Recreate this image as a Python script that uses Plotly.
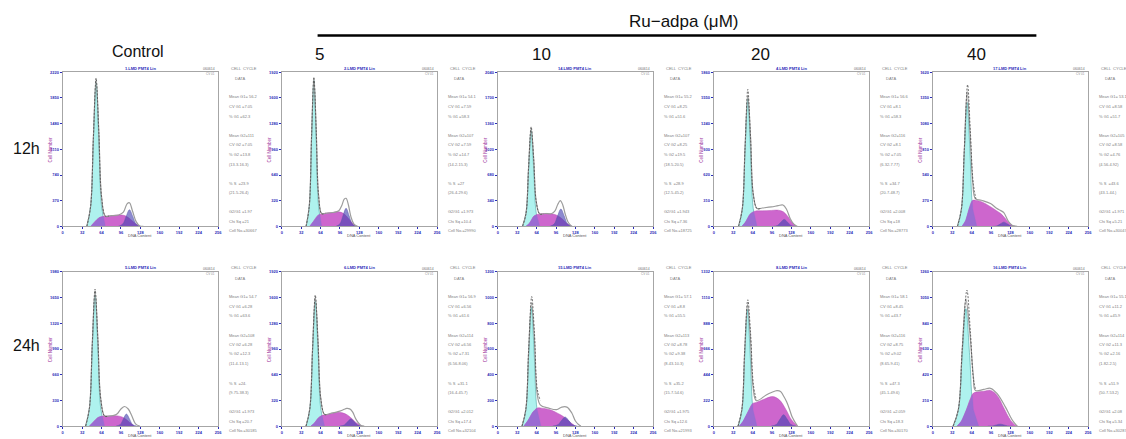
import plotly.graph_objects as go

# ---------------- data ----------------
PANEL_NAMES = ["1.LMD PMT4 Lin", "2.LMD PMT4 Lin", "14.LMD PMT4 Lin", "4.LMD PMT4 Lin", "17.LMD PMT4 Lin",
               "5.LMD PMT4 Lin", "6.LMD PMT4 Lin", "15.LMD PMT4 Lin", "8.LMD PMT4 Lin", "16.LMD PMT4 Lin"]
COL_LABELS = ["Control", "5", "10", "20", "40"]
ROW_LABELS = ["12h", "24h"]
X_TICKS = [0, 32, 64, 96, 128, 160, 192, 224, 256]
YMAX = [2220, 1920, 2040, 1860, 1620, 1980, 1920, 1200, 1332, 1260]

MEAN_G1 = ["56.2", "54.1", "55.2", "56.6", "53.1", "54.7", "56.9", "57.1", "58.1", "55.1"]
CV_G1 = ["7.05", "7.59", "8.25", "8.1", "8.58", "6.28", "6.56", "8.8", "8.45", "11.2"]
PCT_G1 = ["62.3", "58.3", "51.6", "58.3", "51.7", "63.6", "61.6", "55.5", "43.7", "45.9"]
MEAN_G2 = ["111", "107", "107", "116", "105", "108", "114", "113", "116", "114"]
CV_G2 = ["7.05", "7.59", "8.25", "8.1", "8.58", "6.28", "6.56", "8.78", "8.75", "11.3"]
PCT_G2 = ["13.8", "14.7", "19.5", "7.05", "4.76", "12.3", "7.31", "9.38", "9.02", "2.16"]
G2_CI = ["(13.3-16.3)", "(14.2-15.3)", "(18.5-20.5)", "(6.32-7.77)", "(4.56-4.92)",
         "(11.4-13.1)", "(6.56-8.06)", "(8.43-10.3)", "(8.65-9.41)", "(1.82-2.5)"]
PCT_S = ["23.9", "27", "28.9", "34.7", "43.6", "24.", "31.1", "35.2", "47.3", "51.9"]
S_CI = ["(21.5-26.4)", "(26.4-29.6)", "(12.5-45.2)", "(20.7-48.7)", "(43.1-44.)",
        "(9.75-38.3)", "(16.4-45.7)", "(15.7-54.6)", "(45.1-49.6)", "(50.7-53.2)"]
G2G1 = ["1.97", "1.973", "1.943", "2.008", "1.971", "1.973", "2.012", "1.975", "2.059", "2.08"]
CHI = ["21", "10.4", "7.36", "18", "5.21", "20.7", "17.4", "12.6", "18.3", "5.34"]
CELLS = ["30667", "29990", "18725", "28773", "30047", "30185", "32104", "21993", "30170", "30287"]

# G1 peak (cyan)
G1_X = [[39.7, 46, 50.5, 55, 59.5, 64, 70.3],
        [40.1, 45.4, 49.2, 53, 56.8, 60.6, 65.9],
        [40.7, 46.6, 50.8, 55, 59.2, 63.4, 69.3],
        [40.7, 47, 51.5, 56, 60.5, 65, 71.3],
        [40.5, 47.1, 51.8, 56.5, 61.2, 65.9, 72.5],
        [37.7, 44.1, 48.7, 53.3, 57.9, 62.5, 68.9],
        [40, 46.3, 50.8, 55.3, 59.8, 64.3, 70.6],
        [39.9, 46.3, 50.9, 55.5, 60.1, 64.7, 71.1],
        [39.9, 46.3, 50.9, 55.5, 60.1, 64.7, 71.1],
        [33.4, 42.1, 48.3, 54.5, 60.7, 66.9, 75.6]]
G1_Y = [[0, 290, 1242, 2070, 1242, 290, 0],
        [0, 255, 1091, 1818, 1091, 255, 0],
        [0, 177, 760, 1267, 760, 177, 0],
        [0, 215, 923, 1539, 923, 215, 0],
        [0, 182, 782, 1303, 782, 182, 0],
        [0, 236, 1012, 1686, 1012, 236, 0],
        [0, 218, 935, 1558, 935, 218, 0],
        [0, 129, 554, 924, 554, 129, 0],
        [0, 141, 604, 1006, 604, 141, 0],
        [0, 134, 576, 960, 576, 134, 0]]

# S phase (magenta)
S_X = [[46, 52, 60, 68, 80, 95, 104, 112, 120, 128],
       [46, 52, 60, 70, 82, 94, 102, 110, 116, 122],
       [46, 52, 60, 70, 80, 90, 98, 106, 114, 122],
       [46, 52, 60, 68, 80, 95, 106, 115, 122, 130, 136],
       [48, 54, 60, 65, 70, 80, 95, 105, 112, 118, 124, 130, 134],
       [44, 50, 58, 64, 75, 86, 95, 102, 110, 118],
       [48, 54, 60, 66, 78, 92, 100, 108, 116, 124, 133],
       [43, 50, 58, 65, 72, 86, 100, 108, 116, 122, 128],
       [42, 48, 56, 64, 70, 84, 97, 108, 119, 128, 138],
       [40, 47, 55, 62, 67, 75, 84, 95, 106, 117, 128, 136, 140]]
S_Y = [[0, 60, 125, 145, 155, 165, 150, 100, 40, 0],
       [0, 60, 140, 162, 172, 182, 160, 100, 45, 0],
       [0, 40, 140, 165, 172, 165, 145, 100, 40, 0],
       [0, 50, 150, 184, 188, 193, 196, 175, 120, 40, 0],
       [0, 60, 190, 270, 276, 260, 207, 165, 135, 95, 50, 15, 0],
       [0, 50, 110, 126, 130, 134, 125, 100, 50, 0],
       [0, 40, 100, 131, 150, 172, 165, 140, 90, 35, 0],
       [0, 45, 110, 140, 140, 128, 97, 75, 45, 20, 0],
       [0, 40, 120, 195, 205, 235, 255, 227, 142, 55, 0],
       [0, 40, 130, 225, 270, 280, 285, 292, 251, 149, 49, 8, 0]]

# part of the S phase lying under the G1 peak (violet)
OV_X = [[46, 52, 60, 64, 67.2, 70.3],
        [46, 52, 56.8, 60.6, 62.8, 65.9],
        [46, 52, 59.2, 64.1, 69.3],
        [46, 52, 60, 66, 71.3],
        [48, 54, 60, 65.2, 65.9, 72.5],
        [44, 50, 57.9, 62.5, 65.5, 68.9],
        [48, 54, 59.8, 64.3, 66.7, 70.6],
        [43, 50, 58, 64.6, 71.1],
        [42, 48, 56, 64.15, 64.7, 71.1],
        [40, 47, 55, 62, 65.2, 66.9, 75.6]]
OV_Y = [[0, 60, 125, 137, 143, 0],
        [0, 60, 110, 142, 150, 0],
        [0, 40, 130, 153, 0],
        [0, 50, 150, 178, 0],
        [0, 60, 190, 272, 182, 0],
        [0, 50, 108, 122, 127, 0],
        [0, 40, 95, 122, 133, 0],
        [0, 45, 110, 138, 0],
        [0, 40, 120, 196, 141, 0],
        [0, 40, 130, 225, 253, 134, 0]]

# G2 peak (blue / purple)
G2_X = [[91.3, 99, 104.5, 110, 115.5, 121, 128.7],
        [89, 96, 101, 106, 111, 116, 123],
        [85.3, 93, 98.5, 104, 109.5, 115, 122.7],
        [97.3, 105, 110.5, 116, 121.5, 127, 134.7],
        [98.3, 106, 111.5, 117, 122.5, 128, 135.7],
        [88, 95, 100, 105, 110, 115, 122],
        [95.3, 103, 108.5, 114, 119.5, 125, 132.7],
        [90.6, 99, 105, 111, 117, 123, 131.4],
        [94.6, 103, 109, 115, 121, 127, 135.4],
        [90.6, 99, 105, 111, 117, 123, 131.4]]
G2_Y = [[0, 34, 144, 240, 144, 34, 0],
        [0, 32, 135, 225, 135, 32, 0],
        [0, 32, 138, 230, 138, 32, 0],
        [0, 12, 51, 85, 51, 12, 0],
        [0, 6, 27, 45, 27, 6, 0],
        [0, 22, 93, 155, 93, 22, 0],
        [0, 13, 54, 90, 54, 13, 0],
        [0, 10, 43, 71, 43, 10, 0],
        [0, 14, 59, 99, 59, 14, 0],
        [0, 2, 10, 16, 10, 2, 0]]

# overall fit outline (grey)
TOT_X = [[39.7, 46, 50.5, 55, 59.5, 64, 70.3, 80, 92, 100, 106, 110, 115, 121, 127, 133],
         [40.1, 45.4, 49.2, 53, 56.8, 60.6, 65.9, 72, 84, 94, 99, 103, 106, 110, 114, 119, 125],
         [40.7, 46.6, 50.8, 55, 59.2, 63.4, 69.3, 78, 88, 94, 99, 103, 107, 111, 116, 122, 128],
         [40.7, 47, 51.5, 56, 60.5, 65, 71.3, 80, 95, 106, 114, 120, 126, 132, 138],
         [40.5, 47.1, 51.8, 56.5, 61.2, 65.9, 70, 80, 95, 105, 112, 117, 124, 130, 134, 139],
         [37.7, 44.1, 48.7, 53.3, 57.9, 62.5, 68.9, 75, 83, 90, 96, 102, 108, 114, 120, 127],
         [40, 46.3, 50.8, 55.3, 59.8, 64.3, 70.6, 81, 90, 97, 103, 107, 112, 117, 122, 130, 136],
         [39.9, 46.3, 50.9, 55.5, 60.1, 64.7, 70, 84, 97, 105.6, 114, 122, 128, 133, 137],
         [39.9, 46.3, 50.9, 55.5, 60.1, 64.7, 70, 86.4, 95, 104, 110, 114, 120, 125, 129, 133, 138],
         [33.4, 42.1, 48.3, 54.5, 60.7, 66.9, 70, 84, 95, 106, 119.5, 128, 133, 139]]
TOT_Y = [[0, 290, 1272, 2120, 1357, 427, 147, 155, 164, 206, 324, 340, 223, 69, 6, 0],
         [0, 255, 1136, 1840, 1201, 397, 158, 164, 173, 195, 262, 340, 350, 264, 122, 28, 0],
         [0, 177, 785, 1300, 890, 327, 164, 171, 168, 201, 294, 341, 288, 168, 55, 2, 0],
         [0, 215, 953, 1580, 1078, 390, 215, 222, 235, 250, 258, 205, 92, 27, 0],
         [0, 182, 787, 1420, 992, 453, 293, 275, 241, 190, 166, 145, 60, 15, 5, 0],
         [0, 236, 1050, 1740, 1120, 360, 130, 128, 135, 160, 220, 252, 220, 130, 30, 0],
         [0, 218, 960, 1610, 1050, 345, 145, 160, 175, 190, 210, 221, 215, 175, 90, 12, 0],
         [0, 129, 580, 960, 700, 260, 166, 140, 128, 148, 148, 102, 40, 13, 0],
         [0, 141, 640, 1050, 780, 340, 220, 269, 290, 306, 300, 269, 210, 142, 80, 42, 0],
         [0, 134, 610, 1040, 780, 400, 292, 300, 309, 265, 157, 75, 35, 0]]

# raw histogram around the G1 peak (dashed)
DSH_X = [[39.7, 46, 50.5, 55, 59.5, 64, 70.3, 76],
         [40.1, 45.4, 49.2, 53, 56.8, 60.6, 65.9, 72],
         [40.7, 46.6, 50.8, 55, 59.2, 63.4, 69.3, 76],
         [40.7, 47, 51.5, 56, 60.5, 65, 71.3, 78],
         [40.5, 47.1, 51.8, 57.3, 61.8, 66.5, 71],
         [37.7, 44.1, 48.7, 53.3, 57.9, 62.5, 68.9, 75],
         [40, 46.3, 50.8, 55.3, 59.8, 64.3, 70.6, 76],
         [39.9, 46.3, 50.9, 55.9, 60.5, 65, 70],
         [39.9, 46.3, 50.9, 56, 60.6, 65.2, 70],
         [33.4, 42.1, 48.6, 56.2, 62, 67, 71]]
DSH_Y = [[0, 290, 1272, 2136, 1357, 427, 147, 150],
         [0, 255, 1136, 1859, 1201, 397, 158, 164],
         [0, 177, 785, 1318, 890, 327, 164, 170],
         [0, 215, 953, 1652, 1078, 390, 215, 220],
         [0, 182, 800, 1489, 1000, 460, 290],
         [0, 236, 1050, 1758, 1120, 360, 130, 128],
         [0, 218, 960, 1632, 1050, 345, 145, 150],
         [0, 135, 600, 1008, 720, 290, 200],
         [0, 150, 660, 1091, 800, 360, 225],
         [0, 140, 640, 1111, 760, 380, 292]]

# ---------------- layout / styling ----------------
FIG_W, FIG_H = 1126, 439
BOX_L = [62, 282, 499, 716, 936]
ROW_T = [70, 272]
BOX = 156
FONT = "Liberation Sans"
BLUE = "#2b2bb8"
GREY_TXT = "#808080"

CYAN = "#aef2ee"
CYAN_EDGE = "#48a4a4"
MAGENTA = "#cd66cd"
VIOLET = "#9a6cd2"
G2_FILL = "rgba(70,66,178,0.62)"
G2_EDGE = "#5a5aa8"


def fx(p):
    return p / FIG_W


def fy(p):
    return 1 - p / FIG_H


def note(xp, yp, text, font, xanchor="left", **kw):
    return dict(x=fx(xp), y=fy(yp), xref="paper", yref="paper", text=text,
                showarrow=False, xanchor=xanchor, yanchor="middle", font=font, **kw)


fig = go.Figure()
ann = []
axes = {}

for i in range(10):
    r, c = divmod(i, 5)
    L, T = BOX_L[c], ROW_T[r]
    n = i + 1
    xa, ya = ("x", "y") if n == 1 else (f"x{n}", f"y{n}")
    xk, yk = ("xaxis", "yaxis") if n == 1 else (f"xaxis{n}", f"yaxis{n}")
    ystep = YMAX[i] // 6
    yt = [ystep * k for k in range(7)]
    common = dict(showgrid=False, zeroline=False, showline=True, mirror=True,
                  linecolor="#a6a6a6", linewidth=1, ticks="outside", ticklen=2,
                  tickwidth=0.8, tickcolor=BLUE,
                  tickfont=dict(family=FONT, size=4, color=BLUE, weight="bold"),
                  fixedrange=True)
    axes[xk] = dict(domain=[fx(L), fx(L + BOX)], range=[0, 256], anchor=ya,
                    tickvals=X_TICKS, ticktext=[str(v) for v in X_TICKS], **common)
    axes[yk] = dict(domain=[fy(T + BOX), fy(T)], range=[0, YMAX[i]], anchor=xa,
                    tickvals=yt, ticktext=[str(v) for v in yt], **common)

    sc = dict(xaxis=xa, yaxis=ya, mode="lines", showlegend=False, hoverinfo="skip")
    fig.add_trace(go.Scatter(x=G1_X[i], y=G1_Y[i], fill="tozeroy", fillcolor=CYAN,
                             line=dict(color=CYAN_EDGE, width=0.6, shape="spline"), **sc))
    fig.add_trace(go.Scatter(x=S_X[i], y=S_Y[i], fill="tozeroy", fillcolor=MAGENTA,
                             line=dict(color="#b552b5", width=0.5, shape="spline"), **sc))
    fig.add_trace(go.Scatter(x=OV_X[i], y=OV_Y[i], fill="tozeroy", fillcolor=VIOLET,
                             line=dict(color=VIOLET, width=0.3, shape="linear"), **sc))
    fig.add_trace(go.Scatter(x=G2_X[i], y=G2_Y[i], fill="tozeroy", fillcolor=G2_FILL,
                             line=dict(color=G2_EDGE, width=0.5, shape="spline"), **sc))
    fig.add_trace(go.Scatter(x=TOT_X[i], y=TOT_Y[i],
                             line=dict(color="#9c9c9c", width=1.2, shape="spline"), **sc))
    fig.add_trace(go.Scatter(x=DSH_X[i], y=DSH_Y[i],
                             line=dict(color="#4a4a4a", width=0.8, dash="2px,1.5px", shape="spline"), **sc))

    # panel small texts
    ann.append(note(L + BOX / 2, T - 4, PANEL_NAMES[i],
                    dict(family=FONT, size=4, color=BLUE, weight="bold"), xanchor="center"))
    ann.append(note(L + BOX - 1, T - 3, "060614",
                    dict(family=FONT, size=3.5, color="#707070"), xanchor="right"))
    ann.append(note(L + BOX - 1, T + 2, "CV 01",
                    dict(family=FONT, size=3, color="#909090"), xanchor="right"))
    ann.append(note(L - 12.5, T + BOX / 2, "Cell Number",
                    dict(family=FONT, size=4.5, color="#9b2f9b"), xanchor="center", textangle=-90))
    ann.append(note(L + BOX / 2, T + BOX + 9, "DNA Content",
                    dict(family=FONT, size=4, color="#555555"), xanchor="center"))

    lines = [(-4, 2, "CELL  CYCLE"), (6.5, 6, "DATA"),
             (24.5, 0, f"Mean G1= {MEAN_G1[i]}"), (35, 0, f"CV G1 ={CV_G1[i]}"),
             (44.5, 0, f"% G1 ={PCT_G1[i]}"),
             (64, 0, f"Mean G2={MEAN_G2[i]}"), (73.5, 0, f"CV G2 ={CV_G2[i]}"),
             (83, 0, f"% G2 ={PCT_G2[i]}"), (93, 0, G2_CI[i]),
             (112.5, 0, f"% S  ={PCT_S[i]}"), (121.5, 0, S_CI[i]),
             (141, 0, f"G2/G1 ={G2G1[i]}"), (151, 0, f"Chi Sq ={CHI[i]}"),
             (160, 0, f"Cell No.={CELLS[i]}")]
    for dy, dx, txt in lines:
        ann.append(note(L + BOX + 9 + dx, T + dy, txt,
                        dict(family=FONT, size=4, color=GREY_TXT)))

# header texts
ann.append(note(686, 19, "Ru\u2212adpa (\u03bcM)",
                dict(family=FONT, size=17, color="#111111"), xanchor="center"))
COL_X = [138, 320, 543, 763, 980]
for lab, cx in zip(COL_LABELS, COL_X):
    ann.append(note(cx, 49 if lab == "Control" else 52.5, lab,
                    dict(family=FONT, size=16 if lab == "Control" else 17, color="#111111"),
                    xanchor="center"))
for lab, ry in zip(ROW_LABELS, [147, 346]):
    ann.append(note(26, ry, lab, dict(family=FONT, size=16, color="#111111"), xanchor="center"))

shapes = [dict(type="line", xref="paper", yref="paper", x0=fx(318), x1=fx(1040),
               y0=fy(33), y1=fy(33), line=dict(color="#000000", width=2.5))]

fig.update_layout(width=FIG_W, height=FIG_H, autosize=False,
                  margin=dict(l=0, r=0, t=0, b=0),
                  paper_bgcolor="white", plot_bgcolor="white",
                  showlegend=False, annotations=ann, shapes=shapes, **axes)

fig.write_html("out.html", config={"displayModeBar": False},
               post_script="document.body.style.margin='0px';document.body.style.padding='0px';")
